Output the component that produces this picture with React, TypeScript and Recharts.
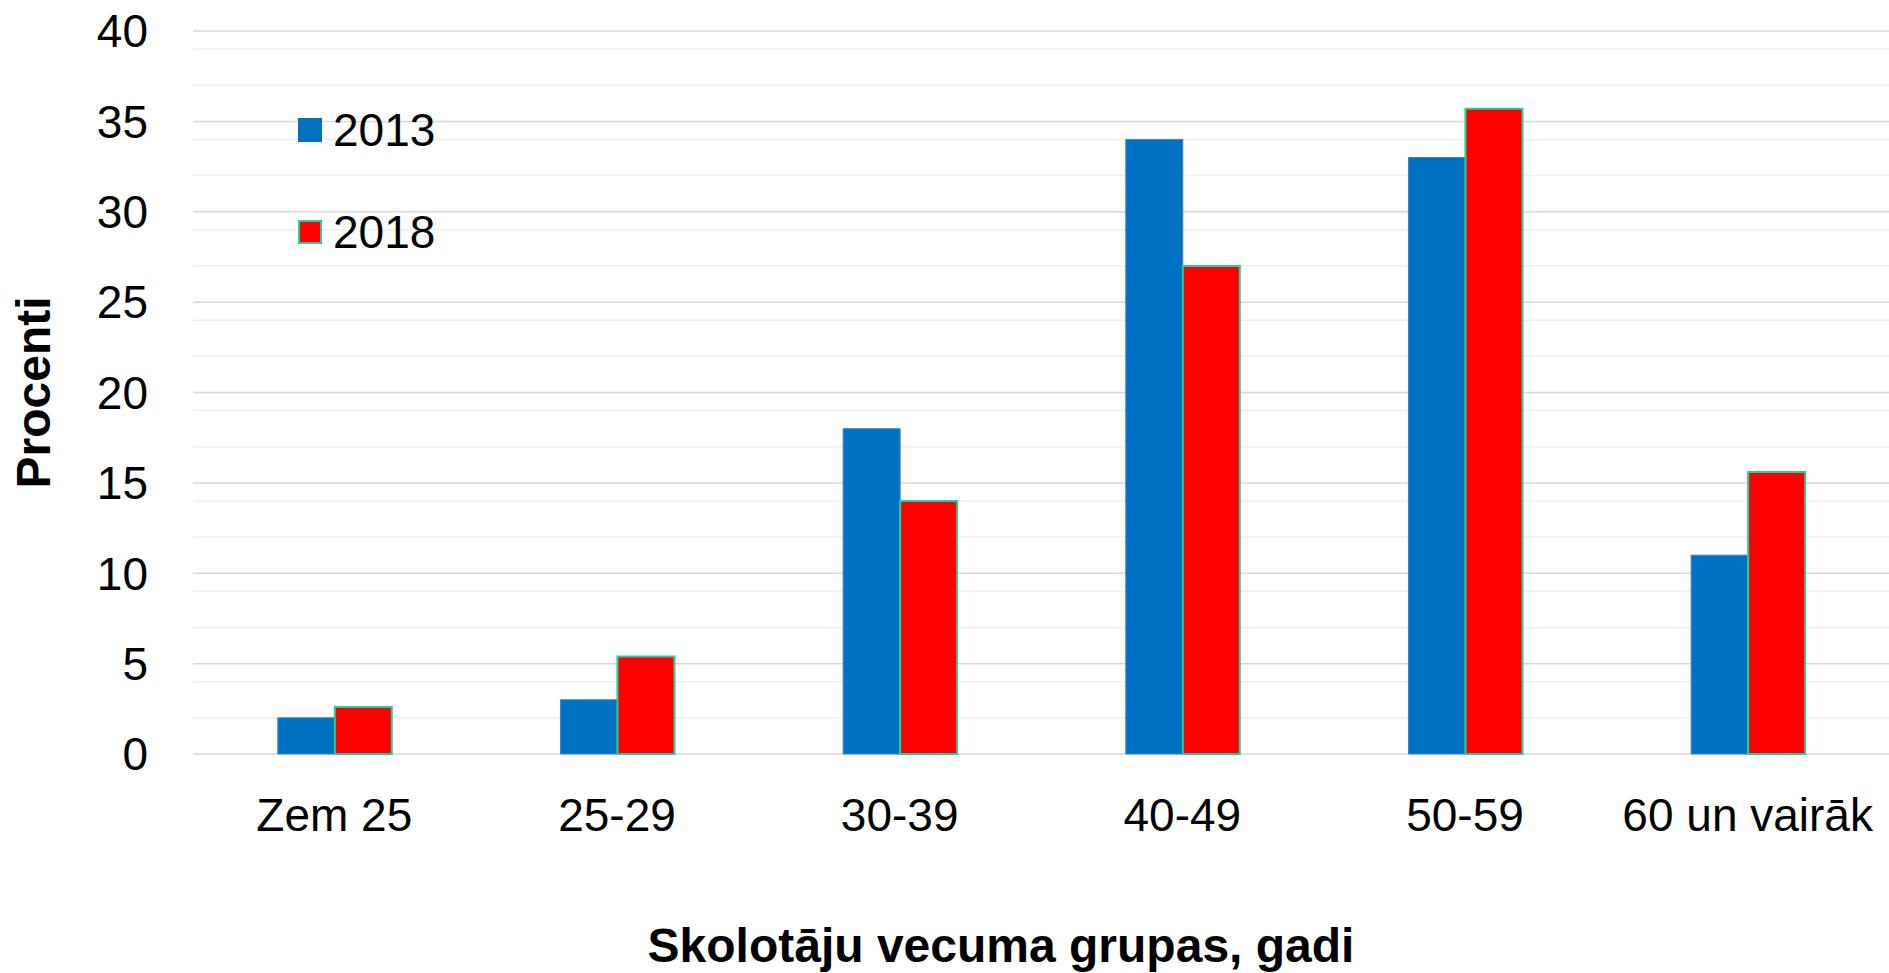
import React from "react";
import { BarChart, Bar, XAxis, YAxis, CartesianGrid, Legend } from "recharts";

const grupas = ["Zem 25", "25-29", "30-39", "40-49", "50-59", "60 un vairāk"];
const gads2013 = [2, 3, 18, 34, 33, 11];
const gads2018 = [2.6, 5.4, 14, 27, 35.7, 15.6];
const galvenieTicks = [0, 5, 10, 15, 20, 25, 30, 35, 40];
const sikieTicks = Array.from({ length: 41 }, (_, i) => i).filter((v) => v % 5 !== 0);

const dati = grupas.map((g, i) => ({ grupa: g, y2013: gads2013[i], y2018: gads2018[i] }));

const FONT = "'Liberation Sans', Arial, sans-serif";
const ZILS = "#0070C0";
const SARKANS = "#FF0000";
const MALA = "#22CFA0";

function XTick({ x, y, payload }: any) {
  return (
    <text x={x} y={y} dy={77} textAnchor="middle" fontSize={46} fontFamily={FONT} fill="#000">
      {payload.value}
    </text>
  );
}

function YTick({ x, y, payload }: any) {
  return (
    <text x={x} y={y} dy="0.355em" textAnchor="end" fontSize={46} fontFamily={FONT} fill="#000">
      {payload.value}
    </text>
  );
}

function Lezenda({ payload }: any) {
  return (
    <div style={{ fontFamily: FONT, fontSize: 46, color: "#000" }}>
      {(payload || []).map((p: any, i: number) => (
        <div key={p.value} style={{ display: "flex", alignItems: "center", height: 50, marginTop: i ? 52 : 0 }}>
          <span
            style={{
              display: "inline-block",
              width: 24,
              height: 24,
              boxSizing: "border-box",
              background: p.color,
              border: p.value === "2018" ? `2px solid ${MALA}` : "none",
              marginRight: 11,
            }}
          />
          <span>{p.value}</span>
        </div>
      ))}
    </div>
  );
}

export default function App() {
  return (
    <div>
      <style>{`body{margin:0;background:#fff}`}</style>
      <BarChart
        width={1889}
        height={973}
        data={dati}
        margin={{ top: 31, right: 0, bottom: 0, left: 0 }}
        barCategoryGap="30%"
        barGap={0}
      >
        <CartesianGrid vertical={false} horizontalValues={sikieTicks} stroke="#efefef" strokeWidth={1.5} />
        <CartesianGrid vertical={false} stroke="#d9d9d9" strokeWidth={1.5} />
        <XAxis
          dataKey="grupa"
          height={219}
          tickSize={0}
          tickMargin={0}
          tickLine={false}
          axisLine={false}
          interval={0}
          tick={<XTick />}
          label={{
            content: ({ viewBox }: any) => (
              <text
                x={viewBox.x + viewBox.width / 2 - 40}
                y={viewBox.y + 208}
                textAnchor="middle"
                fontSize={48}
                fontWeight="bold"
                fontFamily={FONT}
                fill="#000"
              >
                Skolotāju vecuma grupas, gadi
              </text>
            ),
          }}
        />
        <YAxis
          width={193}
          domain={[0, 40]}
          ticks={galvenieTicks}
          tickSize={0}
          tickMargin={45}
          tickLine={false}
          axisLine={false}
          tick={<YTick />}
          label={{
            content: ({ viewBox }: any) => (
              <text
                transform={`translate(${viewBox.x + 33}, ${viewBox.y + viewBox.height / 2}) rotate(-90)`}
                textAnchor="middle"
                dominantBaseline="central"
                fontSize={48}
                fontWeight="bold"
                fontFamily={FONT}
                fill="#000"
              >
                Procenti
              </text>
            ),
          }}
        />
        <Legend
          layout="vertical"
          align="center"
          verticalAlign="middle"
          wrapperStyle={{ left: 298, top: 105, width: "auto" }}
          content={<Lezenda />}
        />
        <Bar dataKey="y2013" name="2013" fill={ZILS} stroke="#3d86c6" strokeWidth={1} isAnimationActive={false} />
        <Bar dataKey="y2018" name="2018" fill={SARKANS} stroke={MALA} strokeWidth={2} isAnimationActive={false} />
      </BarChart>
    </div>
  );
}
